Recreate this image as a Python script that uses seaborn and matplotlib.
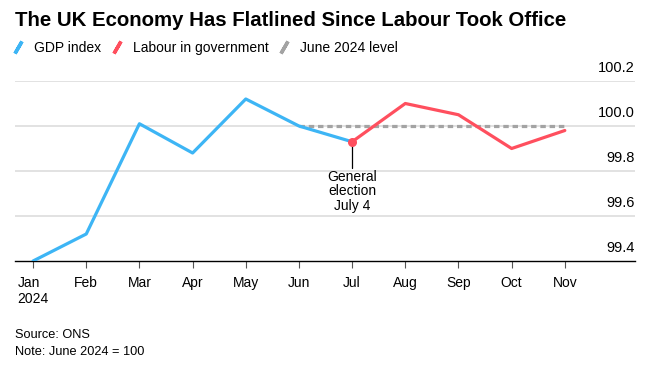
import matplotlib
matplotlib.use("Agg")
import matplotlib.pyplot as plt
import matplotlib.transforms as mtransforms
from matplotlib.lines import Line2D
import pandas as pd
import seaborn as sns

# GDP index, June 2024 = 100
months = ["Jan", "Feb", "Mar", "Apr", "May", "Jun", "Jul", "Aug", "Sep", "Oct", "Nov"]
gdp = [99.40, 99.52, 100.01, 99.88, 100.12, 100.00, 99.93, 100.10, 100.05, 99.90, 99.98]
june_level = 100.0
election_month = "Jul"
y_ticks = [99.4, 99.6, 99.8, 100.0, 100.2]
x_labels = ["Jan\n2024"] + months[1:]

BLUE = "#3DB5F5"
RED = "#FF4F5E"
GREY = "#A3A3A3"

sns.set_theme(style="white")
plt.rcParams["font.family"] = ["Liberation Sans", "DejaVu Sans"]
plt.rcParams["text.color"] = "black"
plt.rcParams["xtick.color"] = "black"

df = pd.DataFrame({"month": months, "gdp": gdp})
df["x"] = range(len(df))
jul = months.index(election_month)
pre = df.iloc[: jul + 1]
post = df.iloc[jul:]
flat = pd.DataFrame({"x": df["x"].iloc[5:], "level": june_level})

fig = plt.figure(figsize=(6.65, 3.71), dpi=100)
ax = fig.add_axes([15 / 665, 1 - 261 / 371, 620 / 665, 180 / 371])

for v in y_ticks[1:]:
    ax.axhline(v, color="#DDDDDD", lw=1.2, zorder=0)

sns.lineplot(data=flat, x="x", y="level", ax=ax, color=GREY, lw=2.3,
             dashes=False, zorder=2).lines[-1].set_dashes([1.7, 1.2])
sns.lineplot(data=pre, x="x", y="gdp", ax=ax, color=BLUE, lw=2.3, zorder=3)
sns.lineplot(data=post, x="x", y="gdp", ax=ax, color=RED, lw=2.3, zorder=3)
ax.scatter([jul], [gdp[jul]], color=RED, s=30, zorder=4)

# election annotation
ax.plot([jul, jul], [gdp[jul], 99.815], color="black", lw=0.9, zorder=3)
ax.text(jul, 99.805, "General\nelection\nJuly 4", ha="center", va="top",
        fontsize=10, linespacing=1.05)

ax.set_xlim(-0.34, 11.32)
ax.set_ylim(99.4, 100.2)
ax.set_xticks(range(len(months)))
ax.set_xticklabels(x_labels, fontsize=10, ha="center")
ax.set_yticks([])
ax.set_xlabel("")
ax.set_ylabel("")
for side in ["top", "right", "left"]:
    ax.spines[side].set_visible(False)
ax.spines["bottom"].set_color("black")
ax.spines["bottom"].set_linewidth(1)
ax.tick_params(axis="x", bottom=True, length=5, width=0.8, color="#555555", pad=6)
ax.get_xticklabels()[0].set_multialignment("left")

# y labels sit just above their gridlines, right-aligned
trans = mtransforms.blended_transform_factory(ax.transAxes, ax.transData)
offset = mtransforms.ScaledTranslation(0, 6 / 100, fig.dpi_scale_trans)
for v in y_ticks:
    ax.text(1.0, v, f"{v:.1f}", transform=trans + offset, ha="right", va="bottom",
            fontsize=10.5)

fig.text(15 / 665, 1 - 20 / 371, "The UK Economy Has Flatlined Since Labour Took Office",
         fontsize=14.7, fontweight="bold", va="center", ha="left")

handles = [Line2D([], [], linestyle="none", marker=(2, 2, -30), markersize=10,
                  markeredgewidth=2.5, markeredgecolor=c) for c in (BLUE, RED, GREY)]
fig.legend(handles, ["GDP index", "Labour in government", "June 2024 level"],
           loc="center left", bbox_to_anchor=(12 / 665, 1 - 48 / 371), ncol=3,
           frameon=False, fontsize=10, handlelength=0.9, handletextpad=0.7,
           columnspacing=0.65, borderaxespad=0, borderpad=0)

fig.text(15 / 665, 1 - 335 / 371, "Source: ONS", fontsize=9.2, va="center")
fig.text(15 / 665, 1 - 352 / 371, "Note: June 2024 = 100", fontsize=9.2, va="center")

fig.savefig("out.png", dpi=100)
